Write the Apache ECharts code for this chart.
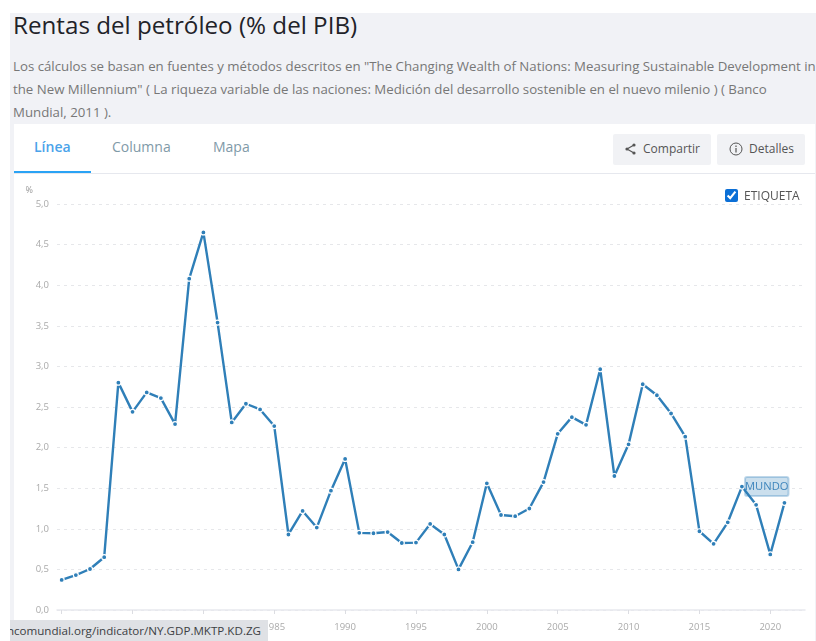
<!DOCTYPE html>
<html>
<head>
<meta charset="utf-8">
<title>Rentas del petróleo (% del PIB)</title>
<script src="https://cdn.jsdelivr.net/npm/echarts@6/dist/echarts.min.js"></script>
<style>
html, body { margin: 0; padding: 0; background: #fff; }
body { width: 816px; height: 641px; position: relative; overflow: hidden; font-family: "Open Sans", sans-serif; }
.page-bg { position: absolute; left: 10px; top: 13px; width: 806px; height: 628px; background: #f1f2f6; }
.title { position: absolute; left: 13px; top: 9px; font-size: 24.2px; line-height: 32px; color: #1f2329; white-space: nowrap; }
.desc { position: absolute; left: 13px; top: 55px; width: 803px; font-size: 13.25px; line-height: 23px; color: #777; white-space: nowrap; }
.card { position: absolute; left: 14px; top: 124px; width: 801px; height: 517px; background: #fff; }
.tabs-line { position: absolute; left: 14px; top: 173px; width: 801px; height: 1px; background: #e6e8ee; }
.tab { position: absolute; top: 137px; font-size: 14px; line-height: 20px; color: #7f9aa8; }
.tab.active { color: #4aa3ea; font-weight: 600; }
.tab-bar { position: absolute; left: 14px; top: 171px; width: 77px; height: 2px; background: #2aa3f5; }
.btn { position: absolute; top: 134px; height: 31px; line-height: 29px; background: #f1f2f5; border-radius: 2px; font-size: 12px; color: #555; }
.btn svg { position: absolute; }
.btn span { position: absolute; top: 0; }
.check { position: absolute; left: 725px; top: 189px; width: 13px; height: 13px; margin: 0; accent-color: #0b6fd6; }
.check-label { position: absolute; left: 744px; top: 187px; font-size: 12px; line-height: 17px; color: #555; }
#chartsObj { position: absolute; left: 0; top: 174px; width: 816px; height: 467px; }
.status { position: absolute; left: 10px; top: 620px; width: 258px; height: 21px; background: #dfe1e5; color: #3c4043; font-size: 11.6px; line-height: 21px; overflow: hidden; white-space: nowrap; }
.status span { position: absolute; right: 7px; }
</style>
</head>
<body>
<div class="page-bg"></div>
<div class="title">Rentas del petróleo (% del PIB)</div>
<div class="desc">Los cálculos se basan en fuentes y métodos descritos en "The Changing Wealth of Nations: Measuring Sustainable Development in<br>the New Millennium" ( La riqueza variable de las naciones: Medición del desarrollo sostenible en el nuevo milenio ) ( Banco<br>Mundial, 2011 ).</div>
<div class="card"></div>
<div class="tabs-line"></div>
<div class="tab active" style="left:34px">Línea</div>
<div class="tab" style="left:112px">Columna</div>
<div class="tab" style="left:213px">Mapa</div>
<div class="tab-bar"></div>
<div class="btn" style="left:613px;width:98px">
    <svg width="12" height="12" viewBox="0 0 12 12" style="left:11px;top:9px"><path d="M10 2 L3 6 L10 10" fill="none" stroke="#555" stroke-width="1.2"/><circle cx="10" cy="2" r="1.6" fill="#555"/><circle cx="3" cy="6" r="1.6" fill="#555"/><circle cx="10" cy="10" r="1.6" fill="#555"/></svg><span style="left:30px">Compartir</span>
</div>
<div class="btn" style="left:717px;width:88px">
    <svg width="14" height="14" viewBox="0 0 14 14" style="left:12px;top:8px"><circle cx="7" cy="7" r="6" fill="none" stroke="#555" stroke-width="1"/><path d="M7 6 V10.5 M7 3.5 V5" stroke="#555" stroke-width="1.2"/></svg><span style="left:32px">Detalles</span>
</div>
<div id="chartsObj"></div>
<input class="check" type="checkbox" checked>
<div class="check-label">ETIQUETA</div>
<div class="status"><span>https://datos.bancomundial.org/indicator/NY.GDP.MKTP.KD.ZG</span></div>
<script>
var years = [1970, 1971, 1972, 1973, 1974, 1975, 1976, 1977, 1978, 1979,
    1980, 1981, 1982, 1983, 1984, 1985, 1986, 1987, 1988, 1989,
    1990, 1991, 1992, 1993, 1994, 1995, 1996, 1997, 1998, 1999,
    2000, 2001, 2002, 2003, 2004, 2005, 2006, 2007, 2008, 2009,
    2010, 2011, 2012, 2013, 2014, 2015, 2016, 2017, 2018, 2019,
    2020, 2021];
var rents = [0.37, 0.43, 0.505, 0.65, 2.80, 2.44, 2.68, 2.61, 2.29, 4.08,
    4.65, 3.54, 2.31, 2.54, 2.47, 2.265, 0.93, 1.22, 1.015, 1.47,
    1.86, 0.95, 0.945, 0.96, 0.825, 0.83, 1.06, 0.93, 0.50, 0.835,
    1.56, 1.17, 1.155, 1.25, 1.575, 2.17, 2.375, 2.28, 2.965, 1.65,
    2.04, 2.78, 2.645, 2.42, 2.135, 0.97, 0.815, 1.08, 1.52, 1.295,
    0.685, 1.32];
var xTicks = [1970, 1975, 1980, 1985, 1990, 1995, 2000, 2005, 2010, 2015, 2020];
var seriesName = 'MUNDO';
var labelYear = 2018;

var chartData = years.map(function (y, i) {
    var item = { value: [y, rents[i]] };
    if (y === labelYear) {
        item.label = {
            show: true,
            position: 'right',
            distance: 0,
            formatter: seriesName,
            color: '#3f86bd',
            fontFamily: 'Open Sans',
            fontSize: 11.2,
            backgroundColor: 'rgba(47,127,184,0.25)',
            borderColor: 'rgba(47,127,184,0.3)',
            borderWidth: 1,
            borderRadius: 2,
            padding: [4, 0, 4, 0]
        };
    }
    return item;
});

var chart = echarts.init(document.getElementById('chartsObj'), null, { renderer: 'canvas' });
chart.setOption({
    animation: false,
    grid: { left: 57, right: 11, top: 30, bottom: 31, containLabel: false },
    xAxis: {
        type: 'value',
        min: 1969.67,
        max: 2022.45,
        splitLine: { show: false },
        axisLine: { show: true, lineStyle: { color: '#e8e9ee', width: 1.5 } },
        axisTick: { show: true, length: 4, customValues: xTicks, lineStyle: { color: '#dcdde2' } },
        axisLabel: {
            customValues: xTicks,
            color: '#aaa',
            fontSize: 9.5,
            fontFamily: 'Open Sans',
            margin: 12,
            formatter: function (v) { return String(v); }
        }
    },
    yAxis: {
        type: 'value',
        min: 0,
        max: 5,
        interval: 0.5,
        name: '%',
        nameLocation: 'end',
        nameGap: 9,
        nameTextStyle: { color: '#999', fontSize: 9, fontFamily: 'Open Sans', align: 'right', padding: [0, 24, 0, 0] },
        axisLine: { show: false },
        axisTick: { show: false },
        axisLabel: {
            color: '#aaa',
            fontSize: 9.5,
            fontFamily: 'Open Sans',
            margin: 8,
            formatter: function (v) { return v.toFixed(1).replace('.', ','); }
        },
        splitLine: { show: true, lineStyle: { color: '#e6e7ea', type: [3, 4], width: 1 } }
    },
    series: [{
        name: seriesName,
        type: 'line',
        data: chartData,
        color: '#2f7fb8',
        lineStyle: { width: 2.4, color: '#2f7fb8' },
        symbol: 'circle',
        symbolSize: 5,
        showAllSymbols: true,
        itemStyle: { color: '#2f7fb8', borderColor: '#fff', borderWidth: 1.2 }
    }]
});
</script>
</body>
</html>
